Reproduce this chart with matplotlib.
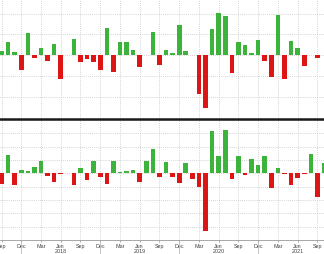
import matplotlib
matplotlib.use('Agg')
import matplotlib.pyplot as plt
from matplotlib.lines import Line2D
import numpy as np
import pandas as pd

# Monthly observations, Sep 2017 onward
months = pd.date_range('2017-09-01', periods=50, freq='MS')

top_values = [1.9, 6.3, 1.4, -7.2, 10.6, -1.4, 3.4, -2.9, 5.3, -11.6,
              0.15, 7.7, -3.4, -1.9, -3.4, -7.2, 13.0, -8.2, 6.3, 6.3,
              2.4, -5.8, 0.15, 11.1, -4.8, 2.4, 1.0, 14.5, 1.9, 0.0,
              -18.8, -25.6, 12.6, 20.3, 18.8, -8.7, 6.3, 4.8, 1.0, 7.2,
              -2.9, -10.6, 19.3, -11.6, 6.8, 3.4, -5.3, 0.15, -1.2, 0.0]

bottom_values = [-8.3, 13.5, -9.0, 2.3, 1.7, 4.5, 9.0, -2.0, -6.5, -0.8,
                 0.5, -9.0, 4.0, -5.0, 9.3, -2.5, -7.7, 9.3, 1.0, 2.0,
                 2.8, -6.5, 9.3, 18.0, -3.0, 8.3, -2.8, -7.5, 7.5, -4.5,
                 -10.0, -43.4, 31.8, 13.0, 32.3, -4.0, 12.8, -1.5, 10.5, 6.0,
                 13.3, -10.8, 3.8, -0.8, -8.5, -3.5, -0.8, 14.3, -17.5, 8.0]

tick_labels = ['Sep', 'Dec', 'Mar', 'Jun', 'Sep', 'Dec', 'Mar', 'Jun', 'Sep',
               'Dec', 'Mar', 'Jun', 'Sep', 'Dec', 'Mar', 'Jun', 'Sep']
year_labels = ['2018', '2019', '2020', '2021']

GREEN = '#3cb43c'
RED = '#dd1515'
TXT = '#444444'
GRID = '#c6c6c6'

W, H = 324, 255
fig = plt.figure(figsize=(W / 100, H / 100), dpi=100)
ax1 = fig.add_axes([0, 1 - 118.5 / H, 1, 118.5 / H])
ax2 = fig.add_axes([0, 1 - 241 / H, 1, 120 / H])

x = np.arange(len(months))
tick_pos = x[::3][:len(tick_labels)]

for ax, vals, ylim, yt in [(ax1, top_values, (-30, 27), np.arange(-20, 21, 10)),
                           (ax2, bottom_values, (-50, 40), np.arange(-50, 41, 10))]:
    cols = [GREEN if v >= 0 else RED for v in vals]
    ax.bar(x, vals, width=0.7, color=cols, zorder=3, linewidth=0)
    ax.set_xlim(-0.23, 49.0)
    ax.set_ylim(*ylim)
    ax.set_yticks(yt)
    ax.set_xticks(tick_pos)
    ax.grid(True, linestyle=(0, (1, 1.5)), color=GRID, linewidth=0.6, zorder=0)
    ax.tick_params(axis='y', length=0, labelleft=False)
    for s in ax.spines.values():
        s.set_visible(False)

ax1.tick_params(axis='x', length=0, labelbottom=False)
ax2.set_xticklabels(tick_labels)
ax2.tick_params(axis='x', length=1.5, width=0.5, color='#888888', pad=0.8,
                labelsize=3.9, labelcolor=TXT)
for lab in ax2.get_xticklabels():
    lab.set_fontfamily('Liberation Sans')
ax2.spines['bottom'].set_visible(True)
ax2.spines['bottom'].set_color('#999999')
ax2.spines['bottom'].set_linewidth(0.6)
ax2.spines['bottom'].set_linestyle((0, (2, 1)))

# year labels under June, separators under December
tr = ax2.get_xaxis_transform()
for yl in year_labels:
    idx = int(np.where((months.year == int(yl)) & (months.month == 6))[0][0])
    ax2.text(x[idx], (241 - 252) / 120, yl, transform=tr, ha='center', va='center',
             fontsize=3.9, color=TXT, family='Liberation Sans', clip_on=False)
for i in np.where(months.month == 12)[0]:
    ax2.plot([x[i], x[i]], [(241 - 243) / 120, (241 - 256) / 120], transform=tr,
             color='#bbbbbb', linewidth=0.6, clip_on=False)

# heavy separator between panels
sep_y = 1 - 119.8 / H
fig.add_artist(Line2D([0, 1], [sep_y, sep_y], transform=fig.transFigure,
                      color='#1a1a1a', linewidth=1.8))

fig.savefig('out.png', dpi=100)
